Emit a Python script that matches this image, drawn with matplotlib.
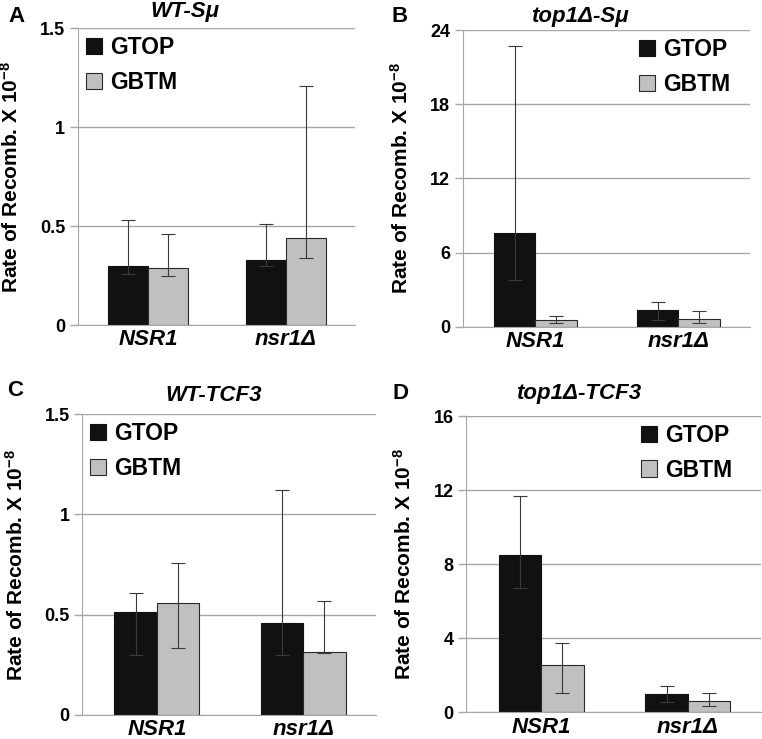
import numpy as np
import matplotlib
matplotlib.use("Agg")
import matplotlib.pyplot as plt

plt.rcParams['font.family'] = ['Liberation Sans', 'DejaVu Sans']
plt.rcParams['font.weight'] = 'bold'
plt.rcParams['mathtext.fontset'] = 'custom'
plt.rcParams['mathtext.rm'] = 'Liberation Sans:bold'
plt.rcParams['mathtext.default'] = 'rm'

strains = ['NSR1', 'nsr1Δ']
series = ['GTOP', 'GBTM']

# panel A: WT-Sμ
a_gtop = [0.30, 0.33]
a_gtop_lo = [0.26, 0.30]
a_gtop_hi = [0.53, 0.51]
a_gbtm = [0.29, 0.44]
a_gbtm_lo = [0.25, 0.34]
a_gbtm_hi = [0.46, 1.21]

# panel B: top1Δ-Sμ
b_gtop = [7.6, 1.35]
b_gtop_lo = [3.8, 0.55]
b_gtop_hi = [22.7, 2.0]
b_gbtm = [0.52, 0.60]
b_gbtm_lo = [0.27, 0.32]
b_gbtm_hi = [0.87, 1.27]

# panel C: WT-TCF3
c_gtop = [0.515, 0.46]
c_gtop_lo = [0.30, 0.30]
c_gtop_hi = [0.61, 1.12]
c_gbtm = [0.56, 0.315]
c_gbtm_lo = [0.335, 0.31]
c_gbtm_hi = [0.76, 0.57]

# panel D: top1Δ-TCF3
d_gtop = [8.5, 0.97]
d_gtop_lo = [6.7, 0.54]
d_gtop_hi = [11.7, 1.40]
d_gbtm = [2.55, 0.59]
d_gbtm_lo = [1.03, 0.32]
d_gbtm_hi = [3.73, 1.03]

panels = [
    ('A', 'WT-Sμ', a_gtop, a_gtop_lo, a_gtop_hi, a_gbtm, a_gbtm_lo, a_gbtm_hi,
     [0, 0.5, 1, 1.5], ['0', '0.5', '1', '1.5']),
    ('B', 'top1Δ-Sμ', b_gtop, b_gtop_lo, b_gtop_hi, b_gbtm, b_gbtm_lo, b_gbtm_hi,
     [0, 6, 12, 18, 24], ['0', '6', '12', '18', '24']),
    ('C', 'WT-TCF3', c_gtop, c_gtop_lo, c_gtop_hi, c_gbtm, c_gbtm_lo, c_gbtm_hi,
     [0, 0.5, 1, 1.5], ['0', '0.5', '1', '1.5']),
    ('D', 'top1Δ-TCF3', d_gtop, d_gtop_lo, d_gtop_hi, d_gbtm, d_gbtm_lo, d_gbtm_hi,
     [0, 4, 8, 12, 16], ['0', '4', '8', '12', '16']),
]

# axes boxes in figure fractions (left, bottom, width, height)
boxes = [
    (0.102, 0.560, 0.364, 0.402),
    (0.607, 0.558, 0.377, 0.401),
    (0.108, 0.0325, 0.386, 0.407),
    (0.612, 0.036, 0.387, 0.401),
]
title_xy = [(0.386, 1.057), (0.41, 1.047), (0.446, 1.063), (0.38, 1.075)]
letter_pos = [(0.021, 0.978), (0.525, 0.977), (0.020, 0.472), (0.526, 0.467)]
ylabel_x = [-0.20, -0.178, -0.187, -0.176]
legend_anchor = [('upper left', (0.0, 1.0)), ('upper right', (0.96, 1.0)),
                 ('upper left', (0.0, 1.0)), ('upper right', (0.93, 1.0))]

fig = plt.figure(figsize=(7.62, 7.39), dpi=100)

x = np.arange(len(strains))
w = 0.29
grid_c = '#a6a6a6'

for i, (letter, title, g1, g1lo, g1hi, g2, g2lo, g2hi, yt, ytl) in enumerate(panels):
    ax = fig.add_axes(boxes[i])
    ax.set_axisbelow(True)
    ax.yaxis.grid(True, color=grid_c, lw=1.0)
    err1 = [np.array(g1) - np.array(g1lo), np.array(g1hi) - np.array(g1)]
    err2 = [np.array(g2) - np.array(g2lo), np.array(g2hi) - np.array(g2)]
    ekw = dict(ecolor='#3a3a3a', elinewidth=0.8, capsize=4.7, capthick=0.8)
    ax.bar(x - w / 2, g1, w, color='#111111', edgecolor='#111111', lw=0.8,
           yerr=err1, error_kw=ekw, label=series[0], zorder=2)
    ax.bar(x + w / 2, g2, w, color='#c0c0c0', edgecolor='#2a2a2a', lw=0.8,
           yerr=err2, error_kw=ekw, label=series[1], zorder=2)

    ax.set_xlim(-0.51, 1.5)
    ax.set_ylim(yt[0], yt[-1])
    ax.set_yticks(yt)
    ax.set_yticklabels(ytl, fontsize=13, fontweight='bold')
    ax.set_xticks(x)
    ax.set_xticklabels(strains, fontsize=16, fontweight='bold', style='italic')
    ax.tick_params(axis='x', length=0, pad=3)
    ax.tick_params(axis='y', length=6, color=grid_c, width=1.0, pad=3)
    for s in ['top', 'right']:
        ax.spines[s].set_visible(False)
    ax.spines['left'].set_color(grid_c)
    ax.spines['bottom'].set_color(grid_c)
    ax.set_ylabel('Rate of Recomb. X 10$^{-8}$', fontsize=15, fontweight='bold')
    ax.yaxis.set_label_coords(ylabel_x[i], 0.5)
    ax.text(title_xy[i][0], title_xy[i][1], title, transform=ax.transAxes,
            ha='center', va='center', fontsize=16, fontweight='bold',
            style='italic')
    fig.text(letter_pos[i][0], letter_pos[i][1], letter, fontsize=16,
             fontweight='bold', va='center', ha='center')
    loc, anchor = legend_anchor[i]
    ax.legend(loc=loc, bbox_to_anchor=anchor, borderaxespad=0,
              frameon=False, fontsize=16.5, handlelength=0.7,
              handleheight=0.7, handletextpad=0.35, labelspacing=0.5,
              borderpad=0.35)

fig.savefig('out.png', dpi=100)
